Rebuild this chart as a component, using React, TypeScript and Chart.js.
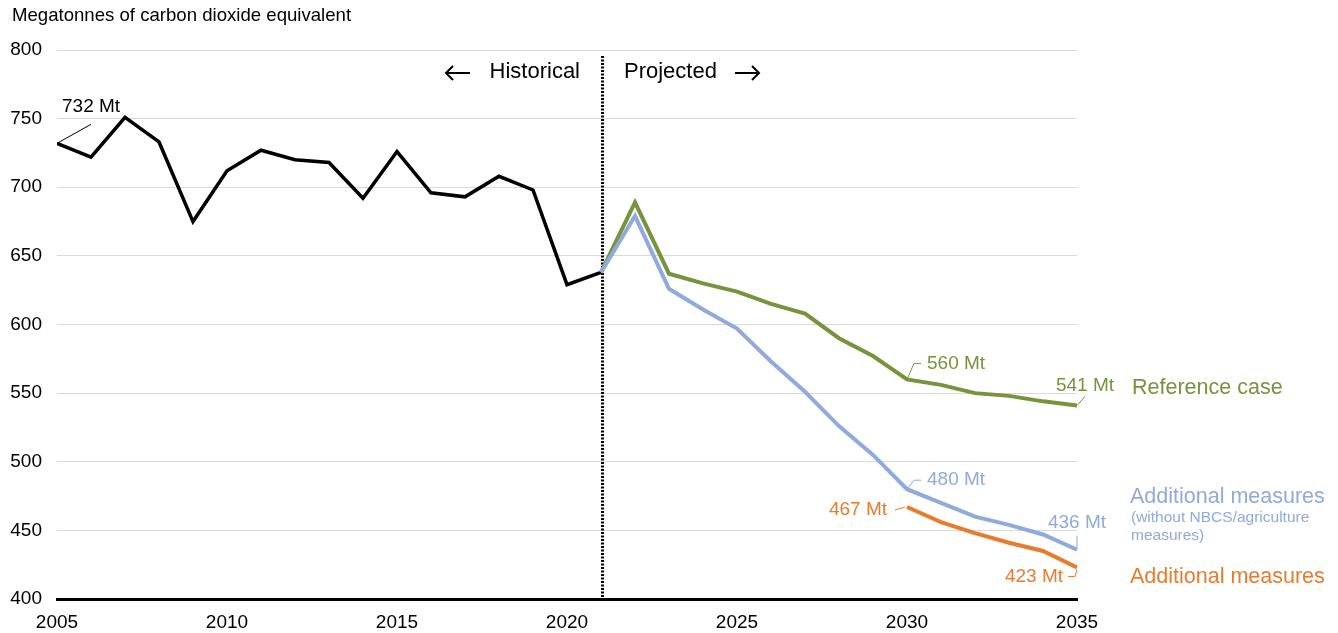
import React, { useEffect, useRef } from "react";
import { Chart, registerables } from "chart.js";

Chart.register(...registerables);

const histYears = [2005, 2006, 2007, 2008, 2009, 2010, 2011, 2012, 2013, 2014, 2015, 2016, 2017, 2018, 2019, 2020, 2021];
const histValues = [732, 722, 751, 733, 675, 712, 727, 720, 718, 692, 726, 696, 693, 708, 698, 629, 638];

const projYears = [2021, 2022, 2023, 2024, 2025, 2026, 2027, 2028, 2029, 2030, 2031, 2032, 2033, 2034, 2035];
const referenceValues = [638, 689, 637, 630, 624, 615, 608, 590, 577, 560, 556, 550, 548, 544, 541];
const addNoAgValues = [638, 679, 626, 611, 597, 573, 551, 526, 505, 480, 470, 460, 454, 447, 436];

const addYears = [2030, 2031, 2032, 2033, 2034, 2035];
const addValues = [467, 456, 448, 441, 435, 423];

const xTicks = [2005, 2010, 2015, 2020, 2025, 2030, 2035];
const yTicks = [400, 450, 500, 550, 600, 650, 700, 750, 800];

const dividerYear = 2021;
const yTitle = "Megatonnes of carbon dioxide equivalent";
const histLabel = "Historical";
const projLabel = "Projected";
const refName = "Reference case";
const addNoAgName = "Additional measures";
const addNoAgSub1 = "(without NBCS/agriculture";
const addNoAgSub2 = "measures)";
const addName = "Additional measures";

const BLACK = "#000000";
const GREEN = "#77933C";
const BLUE = "#8FAADC";
const ORANGE = "#E97B2E";
const FONT = "'Liberation Sans', Arial, sans-serif";

const toXY = (xs: number[], ys: number[]) => xs.map((x, i) => ({ x, y: ys[i] }));

export default function App() {
  const ref = useRef<HTMLCanvasElement | null>(null);

  useEffect(() => {
    const canvas = ref.current;
    if (!canvas) return;

    const text = (ctx: CanvasRenderingContext2D, s: string, x: number, y: number, color: string, size: number, align: CanvasTextAlign = "left") => {
      ctx.font = `${size}px ${FONT}`;
      ctx.fillStyle = color;
      ctx.textAlign = align;
      ctx.textBaseline = "middle";
      ctx.fillText(s, x, y);
    };
    const poly = (ctx: CanvasRenderingContext2D, pts: number[][], color: string, w = 1) => {
      ctx.strokeStyle = color;
      ctx.lineWidth = w;
      ctx.beginPath();
      pts.forEach((p, i) => (i === 0 ? ctx.moveTo(p[0], p[1]) : ctx.lineTo(p[0], p[1])));
      ctx.stroke();
    };

    const annot = {
      id: "annot",
      beforeDatasetsDraw(chart: any) {
        const { ctx, chartArea, scales } = chart;
        const dx = Math.round(scales.x.getPixelForValue(dividerYear)) + 1.5;
        ctx.save();
        ctx.strokeStyle = BLACK;
        ctx.lineWidth = 3;
        ctx.setLineDash([2, 1.5]);
        ctx.beginPath();
        ctx.moveTo(dx, Math.round(chartArea.top) + 6);
        ctx.lineTo(dx, chartArea.bottom);
        ctx.stroke();
        ctx.restore();
      },
      afterDatasetsDraw(chart: any) {
        const { ctx, chartArea, scales } = chart;
        const px = (v: number) => scales.x.getPixelForValue(v);
        const py = (v: number) => scales.y.getPixelForValue(v);
        ctx.save();
        ctx.lineCap = "butt";
        ctx.lineJoin = "miter";

        // title
        text(ctx, yTitle, 12, 16, BLACK, 18.6);

        // historical / projected
        const dx = px(dividerYear);
        const ty = 72;
        text(ctx, histLabel, dx - 21, ty, BLACK, 22, "right");
        text(ctx, projLabel, dx + 23, ty, BLACK, 22, "left");
        // left arrow
        const la = [dx - 155, dx - 131];
        poly(ctx, [[la[0], ty + 1], [la[1], ty + 1]], BLACK, 2);
        poly(ctx, [[la[0] + 7, ty - 6], [la[0], ty + 1], [la[0] + 7, ty + 8]], BLACK, 2);
        // right arrow
        const ra = [dx + 134, dx + 158];
        poly(ctx, [[ra[0], ty + 1], [ra[1], ty + 1]], BLACK, 2);
        poly(ctx, [[ra[1] - 7, ty - 6], [ra[1], ty + 1], [ra[1] - 7, ty + 8]], BLACK, 2);

        // 732 Mt
        const h0x = px(histYears[0]), h0y = py(histValues[0]);
        poly(ctx, [[h0x, h0y], [h0x + 34, h0y - 19]], BLACK, 1);
        text(ctx, `${histValues[0]} Mt`, h0x + 5, h0y - 37, BLACK, 19);

        // reference 2030 and 2035
        const r30 = projYears.indexOf(2030);
        const rl = projYears.length - 1;
        let x0 = px(projYears[r30]), y0 = py(referenceValues[r30]);
        poly(ctx, [[x0, y0], [x0 + 7, y0 - 16], [x0 + 14, y0 - 16]], GREEN, 1);
        text(ctx, `${referenceValues[r30]} Mt`, x0 + 20, y0 - 16, GREEN, 19);
        x0 = px(projYears[rl]); y0 = py(referenceValues[rl]);
        poly(ctx, [[x0, y0], [x0 + 8, y0 - 9]], GREEN, 1);
        text(ctx, `${referenceValues[rl]} Mt`, x0 + 37, y0 - 20, GREEN, 19, "right");

        // additional no-ag 2030 and 2035
        x0 = px(projYears[r30]); y0 = py(addNoAgValues[r30]);
        poly(ctx, [[x0, y0], [x0 + 7, y0 - 9], [x0 + 14, y0 - 9]], BLUE, 1);
        text(ctx, `${addNoAgValues[r30]} Mt`, x0 + 20, y0 - 9, BLUE, 19);
        x0 = px(projYears[rl]); y0 = py(addNoAgValues[rl]);
        poly(ctx, [[x0, y0], [x0, y0 - 14]], BLUE, 1);
        text(ctx, `${addNoAgValues[rl]} Mt`, x0 + 29, y0 - 27, BLUE, 19, "right");

        // additional 2030 and 2035
        x0 = px(addYears[0]); y0 = py(addValues[0]);
        poly(ctx, [[x0 - 2, y0], [x0 - 12, y0 + 3]], ORANGE, 1);
        text(ctx, `${addValues[0]} Mt`, x0 - 20, y0 + 3, ORANGE, 19, "right");
        const al = addYears.length - 1;
        x0 = px(addYears[al]); y0 = py(addValues[al]);
        poly(ctx, [[x0, y0 + 2], [x0 - 2, y0 + 9], [x0 - 9, y0 + 9]], ORANGE, 1);
        text(ctx, `${addValues[al]} Mt`, x0 - 14, y0 + 9, ORANGE, 19, "right");

        // right-side series names
        const nx = chartArea.right + 53;
        text(ctx, refName, nx + 2, 388, GREEN, 21.5);
        text(ctx, addNoAgName, nx, 497, BLUE, 21.5);
        text(ctx, addNoAgSub1, nx + 1, 518, BLUE, 15.5);
        text(ctx, addNoAgSub2, nx + 1, 536, BLUE, 15.5);
        text(ctx, addName, nx, 577, ORANGE, 21.5);

        ctx.restore();
      },
    };

    const lineDs = (label: string, data: any[], color: string, order: number, w = 4) => ({
      label,
      data,
      borderColor: color,
      backgroundColor: color,
      borderWidth: w,
      pointRadius: 0,
      tension: 0,
      fill: false,
      borderJoinStyle: "miter" as const,
      borderCapStyle: "butt" as const,
      order,
    });

    const chart = new Chart(canvas, {
      type: "line",
      data: {
        datasets: [
          lineDs(addName, toXY(addYears, addValues), ORANGE, 0),
          lineDs(addNoAgName, toXY(projYears, addNoAgValues), BLUE, 1),
          lineDs(refName, toXY(projYears, referenceValues), GREEN, 2),
          lineDs("Historical", toXY(histYears, histValues), BLACK, 3, 3.5),
        ],
      },
      options: {
        animation: false,
        responsive: false,
        maintainAspectRatio: false,
        layout: { padding: { left: 0, right: 261, top: 50, bottom: 0 } },
        plugins: { legend: { display: false }, tooltip: { enabled: false } },
        scales: {
          x: {
            type: "linear",
            min: xTicks[0],
            max: xTicks[xTicks.length - 1],
            afterBuildTicks: (s: any) => {
              s.ticks = xTicks.map((v) => ({ value: v }));
            },
            afterFit: (s: any) => {
              s.height = 34;
            },
            ticks: {
              callback: (v: any) => String(v),
              color: BLACK,
              font: { family: FONT, size: 19 },
              padding: 12,
              maxRotation: 0,
              autoSkip: false,
            },
            grid: { display: false, drawTicks: false },
            border: { display: true, color: BLACK, width: 3 },
          },
          y: {
            type: "linear",
            min: yTicks[0],
            max: yTicks[yTicks.length - 1],
            afterBuildTicks: (s: any) => {
              s.ticks = yTicks.map((v) => ({ value: v }));
            },
            afterFit: (s: any) => {
              s.width = 57;
            },
            ticks: {
              callback: (v: any) => String(v),
              color: BLACK,
              font: { family: FONT, size: 19 },
              padding: 15,
            },
            grid: { color: "#D9D9D9", lineWidth: 1, drawTicks: false },
            border: { display: false },
          },
        },
      },
      plugins: [annot],
    });

    return () => chart.destroy();
  }, []);

  return (
    <div style={{ position: "absolute", left: 0, top: 0, width: 1338, height: 633, background: "#fff" }}>
      <canvas ref={ref} width={1338} height={633} style={{ display: "block" }} />
    </div>
  );
}
